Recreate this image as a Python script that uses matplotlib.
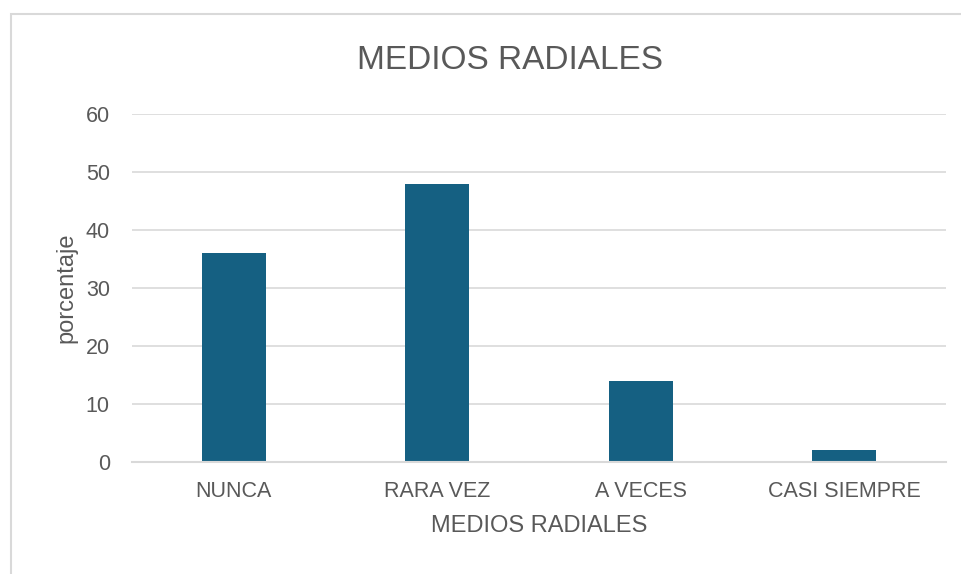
import matplotlib.pyplot as plt
from matplotlib.patches import Rectangle

# datos
categorias = ['NUNCA', 'RARA VEZ', 'A VECES', 'CASI SIEMPRE']
porcentajes = [36, 48, 14, 2]
ticks_y = [0, 10, 20, 30, 40, 50, 60]

plt.rcParams['font.family'] = ['Liberation Sans', 'DejaVu Sans']

W, H = 961, 574
fig = plt.figure(figsize=(W / 100, H / 100), dpi=100)

# borde del área del gráfico
fig.patches.append(Rectangle((10.5 / W, -0.1), 1.2, 1 - 14.5 / H + 0.1,
                             transform=fig.transFigure, facecolor='none',
                             edgecolor='#d9d9d9', linewidth=1.5))

ax = fig.add_axes([132 / W, 1 - 462 / H, (946 - 132) / W, (462 - 114) / H])

x = range(len(categorias))
ax.bar(x, porcentajes, width=0.315, color='#156082', zorder=3)

ax.set_xlim(-0.5, len(categorias) - 0.5)
ax.set_ylim(0, 60)
ax.set_yticks(ticks_y)
ax.set_xticks(list(x))
ax.set_xticklabels(categorias)

ax.grid(axis='y', color='#d9d9d9', linewidth=1.2, zorder=0)
for s in ['top', 'right', 'left']:
    ax.spines[s].set_visible(False)
ax.spines['bottom'].set_color('#d9d9d9')
ax.spines['bottom'].set_linewidth(1.5)
ax.spines['bottom'].set_zorder(4)

ax.tick_params(axis='both', length=0, labelsize=15.5, colors='#595959')
ax.tick_params(axis='x', pad=14)
ax.tick_params(axis='y', pad=16)

ax.set_xlabel('MEDIOS RADIALES', fontsize=17, color='#595959', labelpad=9)
ax.set_ylabel('porcentaje', fontsize=17, color='#595959', labelpad=6)

fig.text(510 / W, 1 - 69 / H, 'MEDIOS RADIALES', fontsize=24, color='#595959',
         ha='center', va='baseline')

plt.savefig('out.png', dpi=100)
